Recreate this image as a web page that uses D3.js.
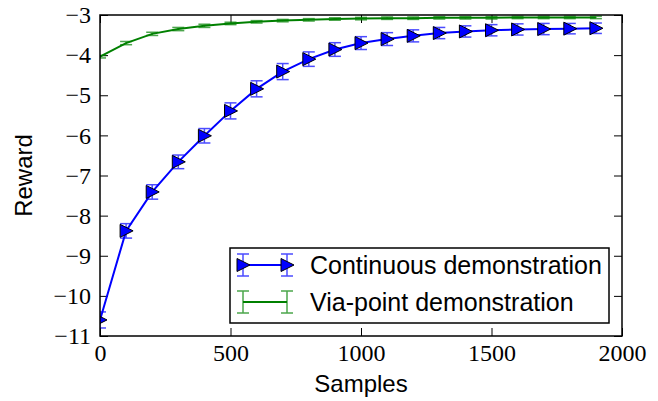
<!DOCTYPE html>
<html><head><meta charset="utf-8">
<script src="https://cdn.jsdelivr.net/npm/d3@7"></script>
<style>body{margin:0;background:#fff}</style>
</head><body><svg id="c" width="658" height="401"></svg>
<script>
const samples = [0,100,200,300,400,500,600,700,800,900,1000,1100,1200,1300,1400,1500,1600,1700,1800,1900];
const continuous = [-10.6,-8.38,-7.41,-6.66,-6.01,-5.39,-4.84,-4.41,-4.1,-3.86,-3.7,-3.6,-3.52,-3.45,-3.41,-3.38,-3.36,-3.35,-3.34,-3.33];
const continuousErr = [0.2,0.18,0.18,0.17,0.18,0.2,0.2,0.2,0.18,0.17,0.16,0.16,0.15,0.14,0.14,0.14,0.14,0.14,0.13,0.13];
const viaPoint = [-4.04,-3.7,-3.47,-3.35,-3.27,-3.21,-3.17,-3.14,-3.12,-3.1,-3.09,-3.08,-3.08,-3.07,-3.07,-3.07,-3.06,-3.06,-3.06,-3.06];
const viaPointErr = [0.03,0.04,0.04,0.04,0.04,0.03,0.03,0.03,0.03,0.03,0.03,0.03,0.03,0.03,0.03,0.03,0.03,0.03,0.03,0.03];
const xTicks = [0,500,1000,1500,2000];
const yTicks = [-11,-10,-9,-8,-7,-6,-5,-4,-3];
const seriesNames = ["Continuous demonstration","Via-point demonstration"];

const svg = d3.select("#c");
const L=100,R=622,T=15,B=336;
const x = d3.scaleLinear().domain([0,2000]).range([L,R]);
const y = d3.scaleLinear().domain([-11,-3]).range([B,T]);
const serif = "'Liberation Serif','DejaVu Serif',serif";
const sans = "'Liberation Sans',Arial,sans-serif";

svg.append("defs").append("clipPath").attr("id","clip").append("rect")
  .attr("x",L).attr("y",T).attr("width",R-L).attr("height",B-T);

const tl = 8;
const gx = svg.append("g").attr("transform",`translate(0,${B})`)
  .call(d3.axisBottom(x).tickValues(xTicks).tickSize(-tl).tickPadding(8).tickFormat(d3.format("d")));
const gxt = svg.append("g").attr("transform",`translate(0,${T})`)
  .call(d3.axisTop(x).tickValues(xTicks).tickSize(-tl).tickFormat(""));
const gy = svg.append("g").attr("transform",`translate(${L},0)`)
  .call(d3.axisLeft(y).tickValues(yTicks).tickSize(-tl).tickPadding(9).tickFormat(d=>"\u2212"+Math.abs(d)));
const gyr = svg.append("g").attr("transform",`translate(${R},0)`)
  .call(d3.axisRight(y).tickValues(yTicks).tickSize(-tl).tickFormat(""));
[gx,gxt,gy,gyr].forEach(g=>{
  g.select(".domain").remove();
  g.selectAll(".tick line").attr("stroke","#000").attr("stroke-width",1);
  g.selectAll("text").attr("font-family",serif).attr("font-size",24).attr("fill","#000");
});
gx.selectAll("text").attr("dy","0.72em");
gy.selectAll("text").attr("dy","0.32em");

const plot = svg.append("g").attr("clip-path","url(#clip)");

function errBars(g, vals, errs, color, capw){
  const eg = g.append("g").attr("stroke",color).attr("stroke-width",1.5).attr("opacity",0.7);
  samples.forEach((s,i)=>{
    const cx=x(s), y1=y(vals[i]-errs[i]), y2=y(vals[i]+errs[i]);
    eg.append("line").attr("x1",cx).attr("x2",cx).attr("y1",y1).attr("y2",y2);
    eg.append("line").attr("x1",cx-capw/2).attr("x2",cx+capw/2).attr("y1",y1).attr("y2",y1);
    eg.append("line").attr("x1",cx-capw/2).attr("x2",cx+capw/2).attr("y1",y2).attr("y2",y2);
  });
}
const line = d3.line().x((d,i)=>x(samples[i])).y(d=>y(d));

plot.append("path").datum(continuous).attr("d",line).attr("fill","none").attr("stroke","#0000ff").attr("stroke-width",2);
errBars(plot, continuous, continuousErr, "#0000ff", 12);
const tri = "M-6,-6.5L7,0L-6,6.5Z";
plot.selectAll(".m").data(continuous).enter().append("path")
  .attr("d",tri).attr("transform",(d,i)=>`translate(${x(samples[i])},${y(d)})`)
  .attr("fill","#0000ff").attr("stroke","#000").attr("stroke-width",1);
plot.append("path").datum(viaPoint).attr("d",line).attr("fill","none").attr("stroke","#008000").attr("stroke-width",2);
errBars(plot, viaPoint, viaPointErr, "#008000", 12);

svg.append("rect").attr("x",L).attr("y",T).attr("width",R-L).attr("height",B-T)
  .attr("fill","none").attr("stroke","#000").attr("stroke-width",1.5);

svg.append("text").attr("x",(L+R)/2).attr("y",392).attr("text-anchor","middle")
  .attr("font-family",sans).attr("font-size",24).text("Samples");
svg.append("text").attr("transform",`translate(32,${(T+B)/2}) rotate(-90)`).attr("text-anchor","middle")
  .attr("font-family",sans).attr("font-size",24).text("Reward");

const lg = svg.append("g");
lg.append("rect").attr("x",230).attr("y",248).attr("width",379).attr("height",75)
  .attr("fill","#fff").attr("stroke","#000").attr("stroke-width",1.5);
const rows=[265,302], hx1=243, hx2=287;
[["#0000ff",true],["#008000",false]].forEach(([c,mk],k)=>{
  const ry=rows[k];
  lg.append("line").attr("x1",hx1).attr("x2",hx2).attr("y1",ry).attr("y2",ry).attr("stroke",c).attr("stroke-width",2);
  [hx1,hx2].forEach(hx=>{
    const eg = lg.append("g").attr("stroke",c).attr("stroke-width",1.5).attr("opacity",0.7);
    const h = 11;
    eg.append("line").attr("x1",hx).attr("x2",hx).attr("y1",ry-h).attr("y2",ry+h);
    eg.append("line").attr("x1",hx-6).attr("x2",hx+6).attr("y1",ry-h).attr("y2",ry-h);
    eg.append("line").attr("x1",hx-6).attr("x2",hx+6).attr("y1",ry+h).attr("y2",ry+h);
    if(mk) lg.append("path").attr("d",tri).attr("transform",`translate(${hx},${ry})`)
      .attr("fill","#0000ff").attr("stroke","#000").attr("stroke-width",1);
  });
  lg.append("text").attr("x",310).attr("y",ry).attr("dy","0.35em")
    .attr("font-family",sans).attr("font-size",25).text(seriesNames[k]);
});
</script></body></html>
